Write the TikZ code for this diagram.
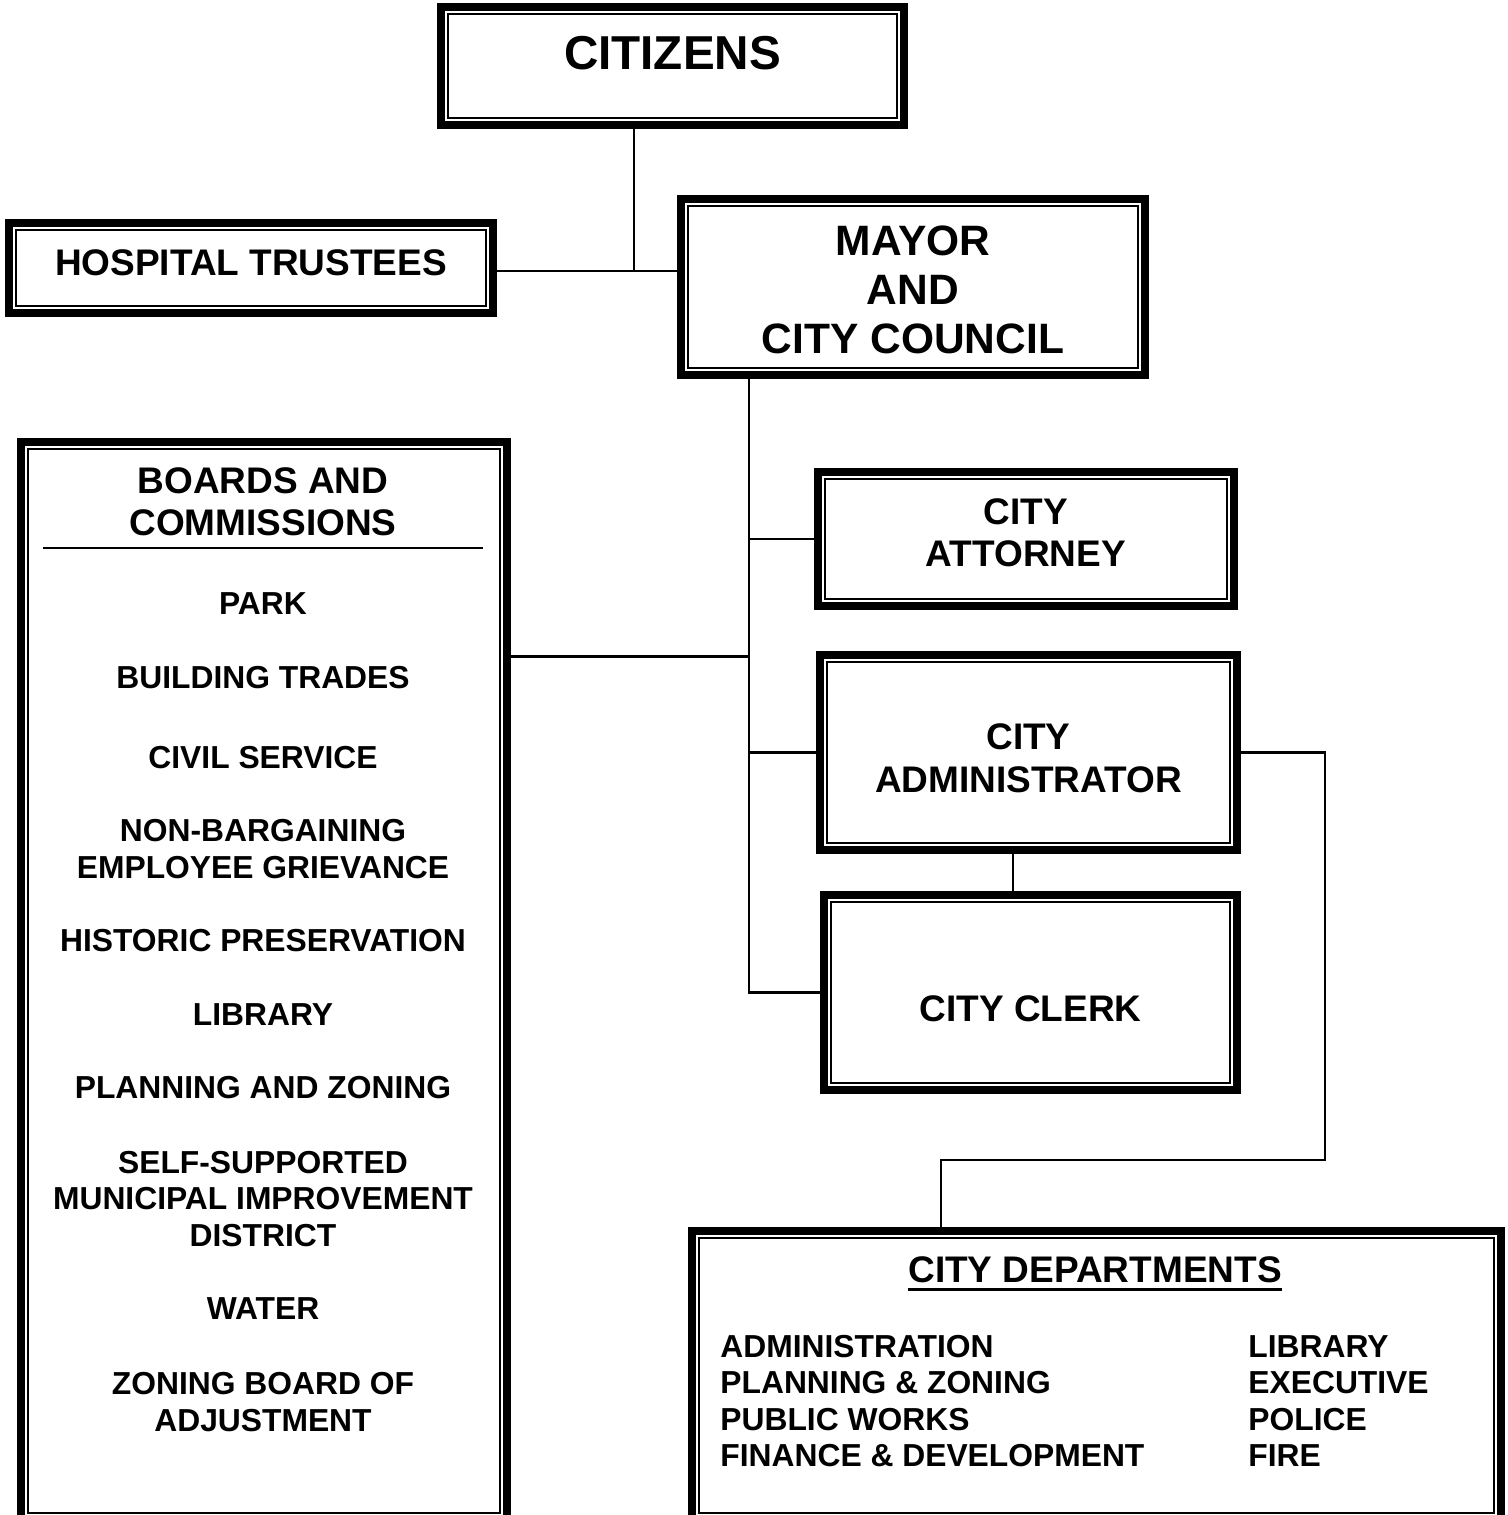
\documentclass[tikz,border=0pt]{standalone}
\usepackage{fontspec}
\setmainfont{Liberation Sans}
\usetikzlibrary{positioning}

\begin{document}
\begin{tikzpicture}[
  x=0.5pt, y=-0.5pt,
  every node/.style={inner sep=0pt, align=center},
  dbox/.style={draw, line width=4pt, rectangle,
    path picture={\draw[line width=0.8pt]
      ([shift={(3.6pt,-3.6pt)}]path picture bounding box.north west) rectangle
      ([shift={(-3.6pt,3.6pt)}]path picture bounding box.south east);}},
  link/.style={draw, line width=1.2pt},
  txtxl/.style={font=\fontsize{23.8}{28}\selectfont\bfseries},
  txtl/.style={font=\fontsize{21.25}{24.5}\selectfont\bfseries},
  txtm/.style={font=\fontsize{18.5}{21.25}\selectfont\bfseries},
  txts/.style={font=\fontsize{15.9}{18.2}\selectfont\bfseries}
]
\useasboundingbox (0,0) rectangle (1508,1515);

% top of the chart
\node[dbox, txtxl, minimum width=231.5pt, minimum height=59pt,
  text height=17pt, text depth=14pt] (citizens) at (672.5,66) {CITIZENS};
\node[dbox, txtm, minimum width=242pt, minimum height=45pt,
  text height=13.3pt, text depth=6pt] (hospital) at (251,268) {HOSPITAL TRUSTEES};
\node[dbox, minimum width=232pt, minimum height=88pt] (mayor) at (913,287) {};
\node[txtl] (mayortxt) at (913,290) {MAYOR\\AND\\CITY COUNCIL};

% right hand column
\node[dbox, minimum width=208pt, minimum height=67pt] (attorney) at (1026,539) {};
\node[txtm] (attorneytxt) at (1026,533) {CITY\\ATTORNEY};
\node[dbox, minimum width=208.5pt, minimum height=97.5pt] (admin) at (1028.5,752.5) {};
\node[txtm] (admintxt) at (1028.5,758.5) {CITY\\ADMINISTRATOR};
\node[dbox, txtm, minimum width=206.5pt, minimum height=97.5pt,
  text height=29.3pt, text depth=0pt] (clerk) at (1030.5,992.5) {CITY CLERK};

% boards and commissions
\node[dbox, minimum width=243pt, minimum height=539pt] (boards) at (264,981) {};
\node[txtm] (bhead) at (263,502) {BOARDS AND\\COMMISSIONS};
\draw[line width=1pt] (43,548) -- (483,548);
\node[txts] (park) at (263,604) {PARK};
\node[txts] (trades) at (263,678) {BUILDING TRADES};
\node[txts] (civil) at (263,758) {CIVIL SERVICE};
\node[txts] (grievance) at (263,849) {NON-BARGAINING\\EMPLOYEE GRIEVANCE};
\node[txts] (historic) at (263,941) {HISTORIC PRESERVATION};
\node[txts] (blibrary) at (263,1015) {LIBRARY};
\node[txts] (planning) at (263,1088) {PLANNING AND ZONING};
\node[txts] (district) at (263,1199) {SELF-SUPPORTED\\MUNICIPAL IMPROVEMENT\\DISTRICT};
\node[txts] (water) at (263,1309) {WATER};
\node[txts] (zoning) at (263,1402) {ZONING BOARD OF\\ADJUSTMENT};

% city departments
\node[dbox, minimum width=404.5pt, minimum height=144.5pt] (depts) at (1096.5,1375.5) {};
\node[txtm] (dhead) at (1095,1270) {CITY DEPARTMENTS};
\draw[line width=1.6pt] ([yshift=-3pt]dhead.south west) -- ([yshift=-3pt]dhead.south east);
\node[txts, anchor=west, align=left] (dleft) at (720,1401)
  {ADMINISTRATION\\PLANNING \& ZONING\\PUBLIC WORKS\\FINANCE \& DEVELOPMENT};
\node[txts, anchor=west, align=left] (dright) at (1248,1401)
  {LIBRARY\\EXECUTIVE\\POLICE\\FIRE};

% connectors
\coordinate (jc) at (634,271);
\coordinate (trunk) at (749,656);
\coordinate (ac) at (1013,870);
\coordinate (rr) at (1325,1160);
\coordinate (dd) at (941,1160);
\draw[link] (citizens.south -| jc) -- (jc);
\draw[link] (hospital.east |- jc) -- (mayor.west |- jc);
\draw[link] (mayor.south -| trunk) -- (trunk |- clerk.west) -- (clerk.west);
\draw[link] (attorney.west -| trunk) -- (attorney.west);
\draw[link, line width=1.5pt] (trunk) -- (trunk -| boards.east);
\draw[link] (admin.west -| trunk) -- (admin.west);
\draw[link] (admin.south -| ac) -- (clerk.north -| ac);
\draw[link] (admin.east) -- (admin.east -| rr) -- (rr) -- (dd) -- (depts.north -| dd);
\end{tikzpicture}
\end{document}
